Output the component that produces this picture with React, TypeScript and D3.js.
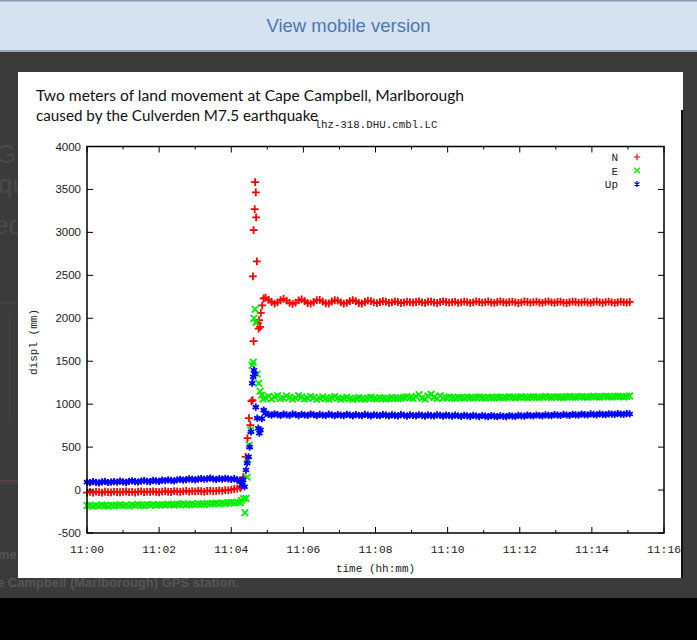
import React, { useEffect, useRef } from "react";
import * as d3 from "d3";

const W = 697;
const H = 640;

// minutes after 11:00 covered by the steady parts of the record
const preWindow: [number, number] = [0, 4.25];
const postWindow: [number, number] = [4.95, 15.05];

// before the rupture (mm), one reading per ~5 s
const northPre = [
  -30, -22, -28, -18, -25, -30, -20, -24, -27, -19, -23, -26, -21, -17, -25, -22, -28, -20,
  -16, -24, -19, -22, -15, -21, -26, -18, -14, -20, -23, -12, -17, -21, -15, -10, -18, -13,
  -16, -8, -14, -19, -11, -6, -12, -9, -4, -10, 0, -3, 5, 12, 18, 25,
];
const eastPre = [
  -182, -176, -188, -179, -185, -172, -180, -186, -175, -183, -178, -170, -181, -176, -184,
  -173, -179, -168, -177, -182, -171, -175, -166, -178, -172, -169, -175, -163, -170, -174,
  -165, -168, -160, -171, -166, -162, -169, -158, -164, -167, -155, -161, -158, -152, -160,
  -150, -156, -148, -145, -152, -140, -146,
];
const upPre = [
  92, 86, 98, 90, 84, 95, 100, 88, 93, 99, 91, 104, 96, 90, 101, 107, 98, 94, 105, 110, 102,
  99, 112, 106, 101, 115, 109, 118, 112, 106, 120, 125, 116, 122, 130, 124, 119, 128, 134,
  126, 131, 138, 129, 124, 133, 127, 136, 130, 125, 132, 118, 104,
];

// the shaking itself: [minute, mm]
const northJump: [number, number][] = [
  [4.28, 40], [4.33, 150], [4.4, 387], [4.45, 605], [4.49, 837], [4.53, 756], [4.56, 1035],
  [4.59, 1047], [4.6, 2488], [4.62, 1733], [4.62, 3027], [4.65, 3271], [4.66, 3585],
  [4.68, 3465], [4.69, 3174], [4.71, 2663], [4.74, 1942], [4.76, 1880], [4.77, 1977],
  [4.8, 1900], [4.82, 2062], [4.86, 2150], [4.9, 2230],
];
const eastJump: [number, number][] = [
  [4.28, -120], [4.34, -100], [4.38, -264], [4.41, -97], [4.44, 150], [4.46, 349], [4.5, 523],
  [4.54, 700], [4.58, 1453], [4.61, 1490], [4.63, 2000], [4.66, 2105], [4.69, 1950],
  [4.72, 1350], [4.76, 1244], [4.8, 1150], [4.84, 1105], [4.88, 1060],
];
const upJump: [number, number][] = [
  [4.27, 100], [4.3, 60], [4.33, 116], [4.37, 39], [4.41, 233], [4.44, 314], [4.48, 387],
  [4.51, 500], [4.55, 678], [4.58, 1244], [4.61, 1318], [4.63, 1395], [4.65, 1350],
  [4.68, 965], [4.72, 837], [4.75, 720], [4.78, 663], [4.81, 700], [4.85, 830], [4.9, 930],
];

// after the rupture (mm), one reading per ~5 s
const northPost = [
  2240, 2215, 2190, 2170, 2185, 2210, 2225, 2205, 2180, 2168, 2182, 2208, 2220, 2200, 2178,
  2170, 2190, 2212, 2215, 2195, 2175, 2172, 2195, 2210, 2205, 2185, 2170, 2180, 2200, 2212,
  2198, 2178, 2172, 2190, 2205, 2200, 2185, 2176, 2188, 2198, 2192, 2180, 2186, 2196, 2190,
  2178, 2185, 2194, 2188, 2182, 2190, 2197, 2186, 2180, 2192, 2195, 2184, 2178, 2189, 2196,
  2190, 2183, 2187, 2194, 2180, 2186, 2193, 2188, 2179, 2185, 2196, 2190, 2182, 2188, 2195,
  2184, 2179, 2190, 2197, 2187, 2181, 2189, 2194, 2185, 2178, 2186, 2195, 2190, 2182, 2188,
  2193, 2184, 2180, 2191, 2196, 2186, 2181, 2189, 2194, 2183, 2178, 2187, 2195, 2189, 2182,
  2186, 2192, 2184, 2180, 2190, 2195, 2186, 2181, 2188, 2193, 2185, 2179, 2187, 2194, 2188,
  2183, 2190,
];
const eastPost = [
  1075, 1090, 1060, 1085, 1100, 1065, 1070, 1095, 1080, 1058, 1072, 1098, 1085, 1062, 1068,
  1090, 1078, 1055, 1070, 1085, 1066, 1060, 1075, 1088, 1070, 1058, 1068, 1080, 1065, 1055,
  1070, 1078, 1062, 1058, 1072, 1080, 1068, 1062, 1075, 1070, 1060, 1066, 1078, 1072, 1064,
  1070, 1080, 1086, 1075, 1068, 1090, 1110, 1072, 1060, 1095, 1115, 1080, 1065, 1100, 1070,
  1078, 1085, 1072, 1068, 1080, 1076, 1070, 1082, 1078, 1072, 1080, 1085, 1075, 1070, 1082,
  1078, 1074, 1084, 1080, 1073, 1079, 1086, 1080, 1074, 1082, 1087, 1079, 1075, 1083, 1088,
  1080, 1076, 1084, 1090, 1082, 1077, 1085, 1088, 1081, 1078, 1086, 1090, 1083, 1079, 1087,
  1091, 1084, 1080, 1088, 1092, 1085, 1081, 1089, 1093, 1086, 1082, 1090, 1094, 1087, 1084,
  1091, 1095,
];
const upPost = [
  895, 880, 872, 888, 878, 868, 884, 876, 870, 886, 879, 867, 882, 874, 869, 885, 877, 866,
  880, 873, 868, 883, 875, 865, 879, 872, 867, 881, 874, 864, 878, 871, 866, 880, 873, 863,
  877, 870, 865, 879, 872, 862, 876, 869, 864, 878, 871, 861, 875, 868, 863, 877, 870, 860,
  874, 867, 862, 876, 869, 861, 873, 866, 860, 872, 865, 858, 870, 864, 857, 869, 862, 856,
  868, 861, 855, 866, 860, 854, 865, 859, 856, 867, 861, 858, 870, 864, 860, 872, 866, 862,
  874, 868, 864, 876, 870, 866, 878, 872, 868, 880, 874, 870, 882, 876, 872, 884, 878, 874,
  886, 880, 876, 887, 882, 878, 888, 884, 880, 890, 885, 882, 889, 886,
];

const yTicks = [-500, 0, 500, 1000, 1500, 2000, 2500, 3000, 3500, 4000];
const xTickMinutes = [0, 2, 4, 6, 8, 10, 12, 14, 16];
const xMinorMinutes = [1, 3, 5, 7, 9, 11, 13, 15];

const seriesNames = ["N", "E", "Up"];
const seriesColors = ["#ff0000", "#00ee00", "#0000ff"];

const t0 = Date.UTC(2016, 10, 13, 11, 0, 0);
const toDate = (min: number) => new Date(t0 + min * 60000);

interface Pt {
  t: number;
  v: number;
}

function buildSeries(pre: number[], jump: [number, number][], post: number[]): Pt[] {
  const preT = d3.scaleLinear().domain([0, pre.length - 1]).range(preWindow);
  const postT = d3.scaleLinear().domain([0, post.length - 1]).range(postWindow);
  return [
    ...pre.map((v, i) => ({ t: preT(i), v })),
    ...jump.map(([t, v]) => ({ t, v })),
    ...post.map((v, i) => ({ t: postT(i), v })),
  ];
}

const App: React.FC = () => {
  const svgRef = useRef<SVGSVGElement | null>(null);

  useEffect(() => {
    document.body.style.margin = "0";
    if (!svgRef.current) return;
    const svg = d3.select(svgRef.current);
    svg.selectAll("*").remove();

    // --- page behind the popup ---
    svg.append("rect").attr("width", W).attr("height", H).attr("fill", "#000");
    svg.append("rect").attr("y", 52).attr("width", W).attr("height", 546).attr("fill", "#3b3b3b");
    const bg = svg.append("g").attr("fill", "#4a4a4a").style("font-family", "'Liberation Sans', Arial");
    bg.append("text").attr("x", -4).attr("y", 163).style("font-size", "26px").text("GPS");
    bg.append("text").attr("x", -2).attr("y", 193).style("font-size", "26px").text("qu");
    bg.append("text").attr("x", -6).attr("y", 234).style("font-size", "26px").text("ed");
    svg.append("rect").attr("x", 0).attr("y", 302).attr("width", 20).attr("height", 1.5).attr("fill", "#474747");
    svg.append("rect").attr("x", 9).attr("y", 315).attr("width", 1).attr("height", 105).attr("fill", "#444");
    svg.append("rect").attr("x", 0).attr("y", 480).attr("width", 20).attr("height", 1.5).attr("fill", "#5a4545");
    svg.append("rect").attr("x", 0).attr("y", 483).attr("width", 20).attr("height", 1).attr("fill", "#45455a");
    bg.append("text").attr("x", -2).attr("y", 559).style("font-size", "13px").style("font-weight", "bold").attr("fill", "#555").text("me");
    bg.append("text").attr("x", -3).attr("y", 587).style("font-size", "13px").style("font-weight", "bold").attr("fill", "#565656")
      .text("e Campbell (Marlborough) GPS station.");

    // top bar
    svg.append("rect").attr("width", W).attr("height", 52).attr("fill", "#d6e2f0");
    svg.append("rect").attr("width", W).attr("height", 1.5).attr("fill", "#8c9bb0");
    svg.append("rect").attr("y", 50).attr("width", W).attr("height", 2).attr("fill", "#9aa8bb");
    svg.append("text").attr("x", W / 2).attr("y", 32).attr("text-anchor", "middle")
      .style("font-family", "'Liberation Sans', Arial").style("font-size", "18.5px")
      .attr("fill", "#4a78b2").text("View mobile version");

    // popup
    svg.append("rect").attr("x", 18).attr("y", 72).attr("width", 665).attr("height", 506).attr("fill", "#fff");
    svg.append("rect").attr("x", 681).attr("y", 110).attr("width", 2).attr("height", 468).attr("fill", "#111");
    const cap = svg.append("g").style("font-family", "Lato, 'Noto Sans', sans-serif").style("font-size", "15.5px").attr("fill", "#111");
    cap.append("text").attr("x", 36).attr("y", 101).attr("textLength", 428).attr("lengthAdjust", "spacingAndGlyphs")
      .text("Two meters of land movement at Cape Campbell, Marlborough");
    cap.append("text").attr("x", 36).attr("y", 121).attr("textLength", 282).attr("lengthAdjust", "spacingAndGlyphs")
      .text("caused by the Culverden M7.5 earthquake");

    // --- gnuplot chart ---
    const mono = "'Liberation Mono', 'DejaVu Sans Mono', monospace";
    const left = 87, right = 664, top = 146.5, bottom = 533;
    const x = d3.scaleUtc().domain([toDate(0), toDate(16)]).range([left, right]);
    const y = d3.scaleLinear().domain([-500, 4000]).range([bottom, top]);

    const g = svg.append("g");

    g.append("text").attr("x", 376).attr("y", 128).attr("text-anchor", "middle")
      .style("font-family", mono).style("font-size", "10.8px").attr("fill", "#222")
      .text("lhz-318.DHU.cmbl.LC");

    const series = [
      buildSeries(northPre, northJump, northPost),
      buildSeries(eastPre, eastJump, eastPost),
      buildSeries(upPre, upJump, upPost),
    ];
    const symbols = [
      d3.symbol(d3.symbolPlus, 22)(),
      d3.symbol(d3.symbolTimes, 30)(),
      d3.symbol(d3.symbolAsterisk, 36)(),
    ];
    const legendSymbols = [
      d3.symbol(d3.symbolPlus, 16)(),
      d3.symbol(d3.symbolTimes, 22)(),
      d3.symbol(d3.symbolAsterisk, 24)(),
    ];

    series.forEach((pts, si) => {
      g.append("g")
        .attr("fill", "none")
        .attr("stroke", seriesColors[si])
        .attr("stroke-width", 1.8)
        .selectAll("path")
        .data(pts)
        .enter()
        .append("path")
        .attr("d", symbols[si] as string)
        .attr("transform", (d) => `translate(${x(toDate(d.t)).toFixed(2)},${y(d.v).toFixed(2)})`);
    });

    // ticks inside the frame
    const ticks = g.append("g").attr("stroke", "#000").attr("stroke-width", 1);
    yTicks.forEach((v) => {
      ticks.append("line").attr("x1", left).attr("x2", left + 6).attr("y1", y(v)).attr("y2", y(v));
      ticks.append("line").attr("x1", right).attr("x2", right - 6).attr("y1", y(v)).attr("y2", y(v));
    });
    xTickMinutes.forEach((m) => {
      const px = x(toDate(m));
      ticks.append("line").attr("x1", px).attr("x2", px).attr("y1", bottom).attr("y2", bottom - 6);
      ticks.append("line").attr("x1", px).attr("x2", px).attr("y1", top).attr("y2", top + 6);
    });
    xMinorMinutes.forEach((m) => {
      const px = x(toDate(m));
      ticks.append("line").attr("x1", px).attr("x2", px).attr("y1", bottom).attr("y2", bottom - 3);
      ticks.append("line").attr("x1", px).attr("x2", px).attr("y1", top).attr("y2", top + 3);
    });

    g.append("rect").attr("x", left).attr("y", top).attr("width", right - left).attr("height", bottom - top)
      .attr("fill", "none").attr("stroke", "#000").attr("stroke-width", 1.5);

    // tick labels
    g.append("g").style("font-family", "'Liberation Sans', Arial").style("font-size", "11.5px").attr("fill", "#222")
      .attr("text-anchor", "end")
      .selectAll("text").data(yTicks).enter().append("text")
      .attr("x", left - 6).attr("y", (d) => y(d) + 4).text((d) => String(d));

    const fmt = d3.utcFormat("%H:%M");
    g.append("g").style("font-family", mono).style("font-size", "11.3px").attr("fill", "#222")
      .attr("text-anchor", "middle")
      .selectAll("text").data(xTickMinutes).enter().append("text")
      .attr("x", (d) => x(toDate(d))).attr("y", bottom + 20).text((d) => fmt(toDate(d)));

    g.append("text").attr("x", (left + right) / 2).attr("y", 572).attr("text-anchor", "middle")
      .style("font-family", mono).style("font-size", "11px").attr("fill", "#222").text("time (hh:mm)");
    g.append("text").attr("transform", `translate(37,342) rotate(-90)`).attr("text-anchor", "middle")
      .style("font-family", mono).style("font-size", "11px").attr("fill", "#222").text("displ (mm)");

    // legend
    seriesNames.forEach((name, i) => {
      const ly = 157 + i * 13.5;
      g.append("text").attr("x", 618).attr("y", ly + 4).attr("text-anchor", "end")
        .style("font-family", mono).style("font-size", "11px").attr("fill", "#222").text(name);
      g.append("path").attr("d", legendSymbols[i] as string).attr("transform", `translate(637,${ly})`)
        .attr("fill", "none").attr("stroke", seriesColors[i]).attr("stroke-width", 1.2);
    });
  }, []);

  return <svg ref={svgRef} width={W} height={H} style={{ display: "block" }} />;
};

export default App;
